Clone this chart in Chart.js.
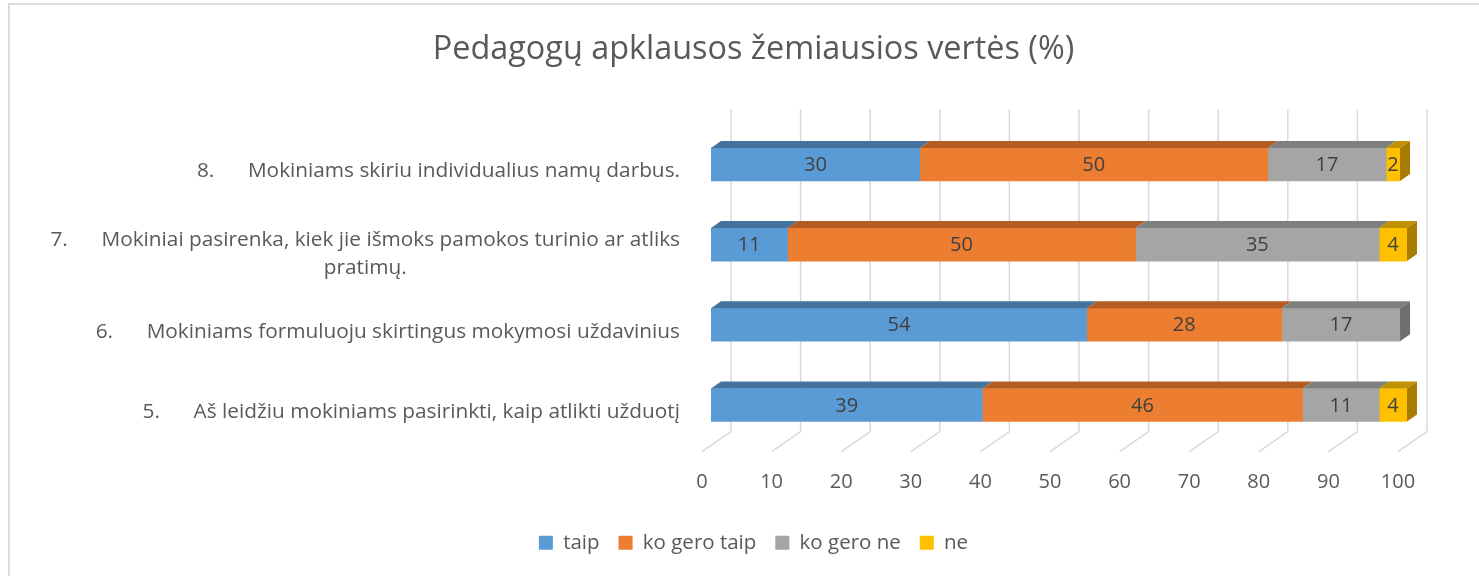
<!DOCTYPE html>
<html>
<head>
<meta charset="utf-8">
<script src="https://cdn.jsdelivr.net/npm/chart.js@4.4.1/dist/chart.umd.min.js"></script>
<style>
  body { margin: 0; background: #fff; }
  #wrap { position: relative; width: 1479px; height: 576px; overflow: hidden; }
  #frame { position: absolute; left: 8px; top: 3px; width: 1500px; height: 600px;
           border-left: 2px solid #dcdcdc; border-top: 2px solid #dcdcdc; pointer-events: none; }
</style>
</head>
<body>
<div id="wrap">
  <canvas id="chart" width="1479" height="576"></canvas>
  <div id="frame"></div>
</div>
<script>
// klausimai (iš viršaus į apačią)
const categoryNumbers = ['8.', '7.', '6.', '5.'];
const categoryTexts = [
    ['Mokiniams skiriu individualius namų darbus.'],
    ['Mokiniai pasirenka, kiek jie išmoks pamokos turinio ar atliks', 'pratimų.'],
    ['Mokiniams formuluoju skirtingus mokymosi uždavinius'],
    ['Aš leidžiu mokiniams pasirinkti, kaip atlikti užduotį']
];

const seriesNames = ['taip', 'ko gero taip', 'ko gero ne', 'ne'];
const taip = [30, 11, 54, 39];
const koGeroTaip = [50, 50, 28, 46];
const koGeroNe = [17, 35, 17, 11];
const ne = [2, 4, null, 4];

const xTicks = [0, 10, 20, 30, 40, 50, 60, 70, 80, 90, 100];

const frontColors = ['#5B9BD5', '#ED7D31', '#A5A5A5', '#FFC000'];
const topColors = ['#44739F', '#B35D22', '#7F7F7F', '#BF9000'];
const sideColors = ['#3E6A93', '#A3541F', '#6E6E6E', '#A67D00'];

const DX = 10, DY = 7; // 3D gylis

Chart.defaults.font.family = "'Open Sans', sans-serif";
Chart.defaults.color = '#595959';

// galinė siena ir grindys su tinklelio linijomis
const wallPlugin = {
    id: 'wall',
    beforeDatasetsDraw(chart) {
        const ctx = chart.ctx;
        const xs = chart.scales.x;
        const area = chart.chartArea;
        ctx.save();
        ctx.strokeStyle = '#d9d9d9';
        ctx.lineWidth = 1.5;
        for (const v of xTicks) {
            const px = xs.getPixelForValue(v);
            ctx.beginPath();
            ctx.moveTo(px + 20, area.top - 15);
            ctx.lineTo(px + 20, area.bottom - 13.5);
            ctx.lineTo(px - 9, area.bottom + 6.5);
            ctx.stroke();
        }
        ctx.restore();
    }
};

// 3D viršus, šonas ir reikšmių užrašai
const barsPlugin = {
    id: 'bars3d',
    afterDatasetsDraw(chart) {
        const ctx = chart.ctx;
        ctx.save();
        for (let d = 0; d < chart.data.datasets.length; d++) {
            const meta = chart.getDatasetMeta(d);
            meta.data.forEach((bar, i) => {
                const val = chart.data.datasets[d].data[i];
                if (!val) return;
                const left = Math.min(bar.base, bar.x);
                const right = Math.max(bar.base, bar.x);
                const top = bar.y - bar.height / 2;
                ctx.fillStyle = topColors[d];
                ctx.beginPath();
                ctx.moveTo(left, top);
                ctx.lineTo(right, top);
                ctx.lineTo(right + DX, top - DY);
                ctx.lineTo(left + DX, top - DY);
                ctx.closePath();
                ctx.fill();
                // ar tai paskutinis segmentas?
                let last = true;
                for (let k = d + 1; k < chart.data.datasets.length; k++) {
                    if (chart.data.datasets[k].data[i]) last = false;
                }
                if (last) {
                    ctx.fillStyle = sideColors[d];
                    ctx.beginPath();
                    ctx.moveTo(right, top);
                    ctx.lineTo(right + DX, top - DY);
                    ctx.lineTo(right + DX, top - DY + bar.height);
                    ctx.lineTo(right, top + bar.height);
                    ctx.closePath();
                    ctx.fill();
                }
                ctx.fillStyle = '#404040';
                ctx.font = "20px 'Open Sans', sans-serif";
                ctx.textAlign = 'center';
                ctx.textBaseline = 'middle';
                ctx.fillText(String(val), (left + right) / 2, bar.y + 1);
            });
        }
        ctx.restore();
    },
    afterDraw(chart) {
        // kategorijų pavadinimai
        const ctx = chart.ctx;
        const ys = chart.scales.y;
        const xRight = chart.chartArea.left - 31;
        ctx.save();
        ctx.fillStyle = '#595959';
        ctx.font = "20.8px 'Open Sans', sans-serif";
        ctx.textBaseline = 'middle';
        categoryTexts.forEach((lines, i) => {
            const yc = ys.getPixelForValue(i);
            const y1 = lines.length > 1 ? yc - 5 : yc + 7;
            const w = ctx.measureText(lines[0]).width;
            const textStart = xRight - w;
            const numLeft = textStart - 51;
            ctx.textAlign = 'right';
            ctx.fillText(lines[0], xRight, y1);
            ctx.textAlign = 'left';
            ctx.fillText(categoryNumbers[i], numLeft, y1);
            for (let k = 1; k < lines.length; k++) {
                ctx.textAlign = 'center';
                ctx.fillText(lines[k], (numLeft + xRight) / 2, y1 + 28 * k);
            }
        });
        ctx.restore();
    }
};

function makeDataset(label, values, color) {
    return {
        label: label,
        data: values,
        backgroundColor: color,
        borderWidth: 0,
        barThickness: 33
    };
}

new Chart(document.getElementById('chart'), {
    type: 'bar',
    data: {
        labels: categoryTexts.map((t, i) => categoryNumbers[i] + ' ' + t.join(' ')),
        datasets: [
            makeDataset(seriesNames[0], taip, frontColors[0]),
            makeDataset(seriesNames[1], koGeroTaip, frontColors[1]),
            makeDataset(seriesNames[2], koGeroNe, frontColors[2]),
            makeDataset(seriesNames[3], ne, frontColors[3])
        ]
    },
    options: {
        indexAxis: 'y',
        responsive: false,
        animation: false,
        layout: { padding: { left: 28, right: 0, top: 0, bottom: 13 } },
        plugins: {
            title: {
                display: true,
                text: 'Pedagogų apklausos žemiausios vertės (%)',
                color: '#595959',
                font: { size: 32.4, weight: 'normal' },
                padding: { top: 30, bottom: 55.4 }
            },
            legend: {
                position: 'bottom',
                labels: {
                    boxWidth: 14,
                    boxHeight: 14,
                    padding: 19,
                    color: '#595959',
                    font: { size: 20.5 }
                }
            },
            tooltip: { enabled: false }
        },
        scales: {
            x: {
                stacked: true,
                min: 0,
                max: 100,
                grid: { display: false, drawTicks: false },
                border: { display: false },
                ticks: {
                    stepSize: 10,
                    labelOffset: -9,
                    padding: 25,
                    color: '#595959',
                    font: { size: 20 }
                },
                afterFit(scale) { scale.height = 68.4; }
            },
            y: {
                stacked: true,
                grid: { display: false },
                border: { display: false },
                ticks: { display: false },
                afterFit(scale) { scale.width = 683; }
            },
            y2: {
                position: 'right',
                type: 'linear',
                grid: { display: false },
                border: { display: false },
                ticks: { display: false },
                afterFit(scale) { scale.width = 72; }
            }
        }
    },
    plugins: [wallPlugin, barsPlugin]
});
</script>
</body>
</html>
